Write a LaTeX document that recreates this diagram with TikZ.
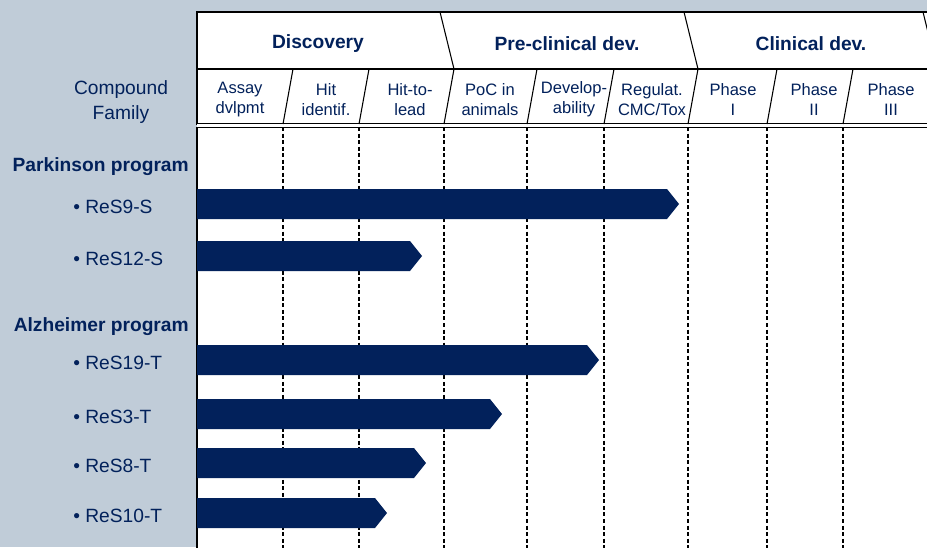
\documentclass[tikz,border=0pt]{standalone}
\usepackage{fontspec}
\setmainfont{Liberation Sans}
\definecolor{navy}{RGB}{2,33,91}
\definecolor{panel}{RGB}{192,204,216}
\tikzset{
  stagehead/.style={font=\bfseries\fontsize{14.4}{17}\selectfont, text=navy},
  substage/.style={font=\fontsize{12.4}{15}\selectfont, text=navy, align=center},
  program/.style={font=\bfseries\fontsize{14.4}{17}\selectfont, text=navy, anchor=east, inner sep=0pt},
  compound/.style={font=\fontsize{14.4}{18}\selectfont, text=navy, anchor=west, inner sep=0pt},
  guide/.style={line width=1.6pt, dash pattern=on 3pt off 1.9pt},
  frame/.style={line width=0.8pt},
  progress/.style={fill=navy}
}
\begin{document}
\begin{tikzpicture}[x=0.75pt, y=-0.75pt]
        % Page size and grey panel
        \clip (0,0) rectangle (927,547);
        \fill[panel] (0,0) rectangle (927,547);

        % Header frame, two rows
        \draw[frame, fill=white] (945,12) -- (197,12) -- (197,124) -- (945,124);
        \draw[frame] (197,69) -- (945,69);
        \draw[line width=1.5pt] (197,124) -- (945,124);

        % Chart area
        \fill[white] (197,124) rectangle (945,560);
        \draw[line width=1.2pt] (197,560) -- (197,127.5) -- (945,127.5);

        % Slanted dividers of the stages (top row)
        \foreach \x in {444,688,927} {
          \draw[frame] (\x-4,12) -- (\x+10,69);
        }

        % Slanted dividers of the sub-stages, continued as dashed guides
        \foreach \x in {283,359,444,527,604,688,767,843} {
          \draw[frame] (\x+10,69) -- (\x,124);
          \draw[guide] (\x,127) -- (\x,560);
        }

        % Stage names
        \node[stagehead] (discovery) at (318,44) {Discovery};
        \node[stagehead] (preclinical) at (567,44) {Pre-clinical dev.};
        \node[stagehead] (clinical) at (811,44) {Clinical dev.};

        % Sub-stage names
        \foreach \x/\t/\name in {240/{Assay\\dvlpmt}/assay, 326/{Hit\\identif.}/hit,
            410/{Hit-to-\\lead}/hitlead, 490/{PoC in\\animals}/poc,
            574/{Develop-\\ability}/devel, 652/{Regulat.\\CMC/Tox}/regul,
            733/{Phase\\I}/phasei, 814/{Phase\\II}/phaseii, 891/{Phase\\III}/phaseiii} {
          \node[substage] (\name) at (\x,99.5) {\t};
        }

        % Left column
        \node[font=\fontsize{14.4}{18.75}\selectfont, text=navy, align=center] (family) at (121,102.5) {Compound\\Family};
        \node[program] (parkinson) at (189,167) {Parkinson program};
        \node[program] (alzheimer) at (189,327) {Alzheimer program};

        % Compounds and their progress bars
        \foreach \y/\tip/\t/\name in {204/679/ReS9-S/resnine, 256/422/ReS12-S/restwelve,
            360/599/ReS19-T/resnineteen, 414/502/ReS3-T/resthree,
            463/426/ReS8-T/reseight, 513/387/ReS10-T/resten} {
          \node[compound] (\name) at (73,\y+2.5) {\textbullet\ \t};
          \fill[progress] (197,\y-15) -- (\tip-12,\y-15) -- (\tip,\y) -- (\tip-12,\y+15) -- (197,\y+15) -- cycle;
        }
      \end{tikzpicture}
\end{document}
